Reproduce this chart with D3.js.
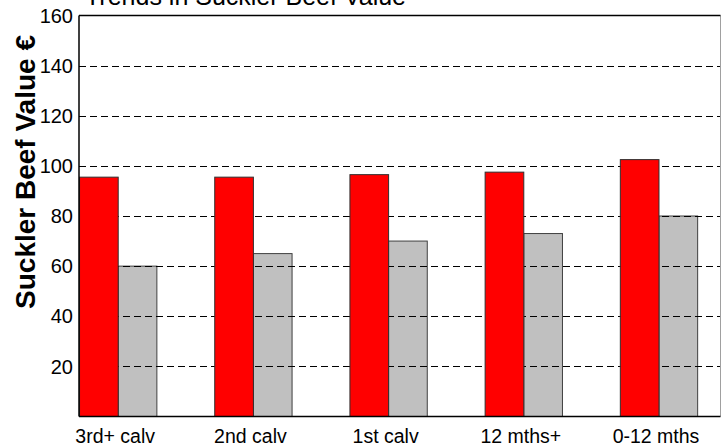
<!DOCTYPE html>
<html>
<head>
<meta charset="utf-8">
<script src="https://cdn.jsdelivr.net/npm/d3@7"></script>
<style>
  body { margin: 0; background: #fff; }
  text { font-family: "Liberation Sans", Arial, sans-serif; }
</style>
</head>
<body>
<div id="chart"></div>
<script>
// data
const categories = ["3rd+ calv", "2nd calv", "1st calv", "12 mths+", "0-12 mths"];
const redValues = [95.5, 95.5, 96.5, 97.5, 102.5];
const greyValues = [60, 65, 70, 73, 80];
const yTicks = [20, 40, 60, 80, 100, 120, 140, 160];

const W = 723, H = 446;
const margin = { top: 15.5, left: 79, right: 2.5, bottom: 29.5 };
const barW = 0.286; // in category units

const svg = d3.select("#chart").append("svg")
  .attr("width", W).attr("height", H);

const x = d3.scaleLinear()
  .domain([-0.29, categories.length - 0.545])
  .range([margin.left, W - margin.right]);

const y = d3.scaleLinear()
  .domain([0, 160])
  .range([H - margin.bottom, margin.top]);

const rows = categories.map((c, i) => ({ c, i, red: redValues[i], grey: greyValues[i] }));

// grey bars sit under the grid, red bars on top
svg.append("g").selectAll("rect")
  .data(rows).enter().append("rect")
  .attr("x", d => x(d.i))
  .attr("width", d => x(d.i + barW) - x(d.i))
  .attr("y", d => y(d.grey))
  .attr("height", d => y(0) - y(d.grey))
  .attr("fill", "#c0c0c0")
  .attr("stroke", "#404040")
  .attr("stroke-width", 1);

svg.append("g").selectAll("line")
  .data(yTicks.filter(t => t < 160)).enter().append("line")
  .attr("x1", x.range()[0]).attr("x2", x.range()[1])
  .attr("y1", d => Math.round(y(d)) + 0.5).attr("y2", d => Math.round(y(d)) + 0.5)
  .attr("stroke", "#000")
  .attr("stroke-width", 1)
  .attr("stroke-dasharray", "7,4");

svg.append("g").selectAll("rect")
  .data(rows).enter().append("rect")
  .attr("x", d => x(d.i - barW))
  .attr("width", d => x(d.i) - x(d.i - barW))
  .attr("y", d => y(d.red))
  .attr("height", d => y(0) - y(d.red))
  .attr("fill", "#ff0000")
  .attr("stroke", "#303030")
  .attr("stroke-width", 1);

// frame
const [x0, x1] = x.range();
svg.append("line").attr("x1", x1).attr("x2", x1).attr("y1", y(160)).attr("y2", y(0))
  .attr("stroke", "#a0a0a0").attr("stroke-width", 1);
svg.append("line").attr("x1", x0).attr("x2", x1).attr("y1", y(160)).attr("y2", y(160))
  .attr("stroke", "#000").attr("stroke-width", 1.5);
svg.append("line").attr("x1", x0).attr("x2", x1).attr("y1", y(0)).attr("y2", y(0))
  .attr("stroke", "#000").attr("stroke-width", 1.5);
svg.append("line").attr("x1", x0).attr("x2", x0).attr("y1", y(160)).attr("y2", y(0))
  .attr("stroke", "#000").attr("stroke-width", 1.5);

// y tick labels
svg.append("g").selectAll("text")
  .data(yTicks).enter().append("text")
  .attr("x", x0 - 6)
  .attr("y", d => y(d))
  .attr("dy", "0.36em")
  .attr("text-anchor", "end")
  .attr("font-size", 20)
  .text(d => d);

// x labels
svg.append("g").selectAll("text")
  .data(rows).enter().append("text")
  .attr("x", d => x(d.i) - 3)
  .attr("y", H - 3)
  .attr("text-anchor", "middle")
  .attr("font-size", 19.5)
  .text(d => d.c);

// y axis title (overlaps the tick labels, as in the original)
svg.append("text")
  .attr("transform", "translate(35, 172) rotate(-90)")
  .attr("text-anchor", "middle")
  .attr("font-size", 28)
  .attr("font-weight", "bold")
  .text("Suckler Beef Value €");

// chart title, cut by the top edge as in the original
svg.append("text")
  .attr("x", 85)
  .attr("y", 4.5)
  .attr("font-size", 25)
  .text("Trends in Suckler Beef Value");
</script>
</body>
</html>
